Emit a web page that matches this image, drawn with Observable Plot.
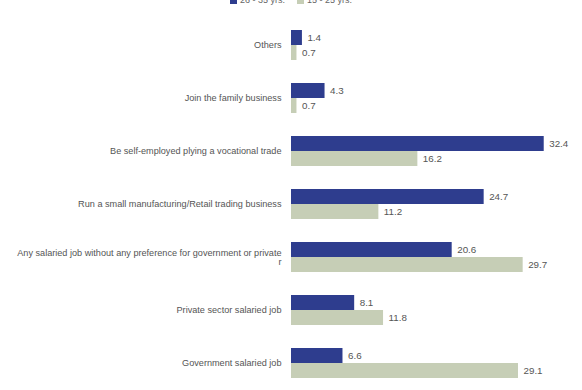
<!DOCTYPE html>
<html>
<head>
<meta charset="utf-8">
<script src="https://cdn.jsdelivr.net/npm/d3@7"></script>
<script src="https://cdn.jsdelivr.net/npm/@observablehq/plot@0.6"></script>
<style>
  body { margin: 0; background: #fff; font-family: "Liberation Sans", Arial, sans-serif; overflow: hidden; }
  #wrap { position: relative; width: 582px; height: 390px; overflow: hidden; }
  #legend { position: absolute; top: -5px; left: 0; width: 582px; text-align: center; font-size: 9px; color: #666; }
  #legend span.sw { display: inline-block; width: 7px; height: 7px; margin-right: 3px; vertical-align: middle; }
  #legend span.item { margin: 0 6px; }
  svg { display: block; }
</style>
</head>
<body>
<div id="wrap">
  <div id="chart"></div>
  <div id="legend"></div>
</div>
<script>
const categories = [
  "Others",
  "Join the family business",
  "Be self-employed plying a vocational trade",
  "Run a small manufacturing/Retail trading business",
  "Any salaried job without any preference for government or private\nr",
  "Private sector salaried job",
  "Government salaried job"
];
const seriesNames = ["26 - 35 yrs.", "15 - 25 yrs."];
const seriesColors = ["#2e3d8e", "#c6ceb6"];
const valuesA = [1.4, 4.3, 32.4, 24.7, 20.6, 8.1, 6.6];
const valuesB = [0.7, 0.7, 16.2, 11.2, 29.7, 11.8, 29.1];

const data = [];
categories.forEach((c, i) => {
  data.push({category: c, series: seriesNames[0], value: valuesA[i]});
  data.push({category: c, series: seriesNames[1], value: valuesB[i]});
});

const chart = Plot.plot({
  width: 582,
  height: 400,
  marginLeft: 291,
  marginRight: 18,
  marginTop: 16,
  marginBottom: 8,
  style: {fontFamily: "Liberation Sans, Arial, sans-serif", fontSize: "9px", color: "#555"},
  x: {domain: [0, 35], axis: null},
  y: {domain: seriesNames, axis: null, padding: 0},
  fy: {domain: categories, axis: null, paddingInner: 0.44, paddingOuter: 0.22},
  color: {domain: seriesNames, range: seriesColors},
  marks: [
    Plot.barX(data, {x: "value", y: "series", fy: "category", fill: "series"}),
    Plot.text(data, {x: "value", y: "series", fy: "category", text: d => d.value.toFixed(1), textAnchor: "start", dx: 5, fill: "#555", fontSize: 9.8}),
    Plot.axisFy({anchor: "left", tickSize: 0, tickPadding: 10, label: null, fontSize: 9.15, fill: "#555", textAnchor: "end"}),
    Plot.ruleX([0], {stroke: "#d0d0d0", y1: 0, y2: 1, fy: null}),
  ]
});
document.getElementById("chart").appendChild(chart);

const legend = document.getElementById("legend");
seriesNames.forEach((s, i) => {
  const item = document.createElement("span");
  item.className = "item";
  item.innerHTML = `<span class="sw" style="background:${seriesColors[i]}"></span>${s}`;
  legend.appendChild(item);
});
</script>
</body>
</html>
